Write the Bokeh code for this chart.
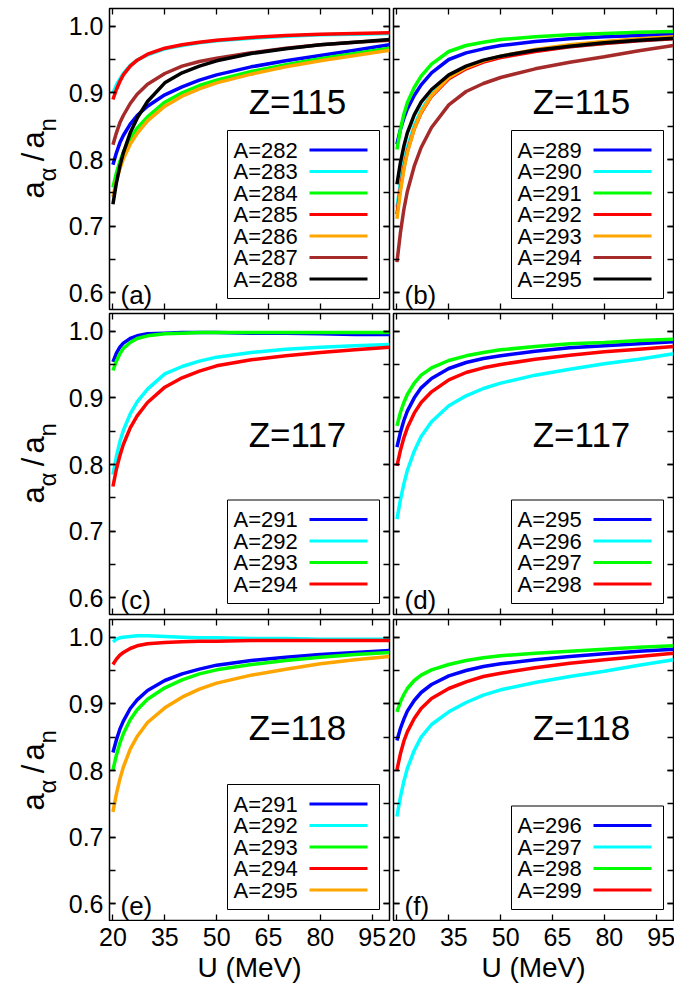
import math
from bokeh.plotting import figure
from bokeh.layouts import column, row
from bokeh.models import (Range1d, LinearAxis, FixedTicker, PrintfTickFormatter,
                          Label, BoxAnnotation, CustomLabelingPolicy)
from bokeh.core.properties import value
from bokeh.embed import file_html
from bokeh.resources import INLINE

# ---------------- data ----------------
U = [20, 21, 22, 23, 25, 27, 30, 35, 40, 45, 50, 60, 70, 80, 90, 100]
XTICKS = [20, 35, 50, 65, 80, 95]
YTICKS = [0.6, 0.7, 0.8, 0.9, 1.0]
YMINOR = [0.6, 0.65, 0.7, 0.75, 0.8, 0.85, 0.9, 0.95, 1.0]
X_RANGE = (19, 100)
Y_RANGE = (0.575, 1.0265)

# (a) Z=115
a_282 = [0.792, 0.810, 0.825, 0.836, 0.853, 0.866, 0.880, 0.897, 0.909, 0.919, 0.927, 0.939, 0.948, 0.956, 0.964, 0.972]
a_283 = [0.900, 0.912, 0.921, 0.929, 0.941, 0.949, 0.957, 0.966, 0.971, 0.975, 0.978, 0.982, 0.985, 0.987, 0.988, 0.989]
a_284 = [0.758, 0.780, 0.797, 0.811, 0.831, 0.847, 0.864, 0.886, 0.900, 0.911, 0.919, 0.932, 0.942, 0.951, 0.959, 0.967]
a_285 = [0.890, 0.905, 0.917, 0.927, 0.940, 0.949, 0.958, 0.967, 0.972, 0.976, 0.979, 0.983, 0.986, 0.988, 0.989, 0.990]
a_286 = [0.744, 0.768, 0.786, 0.801, 0.823, 0.839, 0.858, 0.880, 0.895, 0.906, 0.915, 0.928, 0.939, 0.948, 0.956, 0.964]
a_287 = [0.822, 0.840, 0.855, 0.866, 0.884, 0.898, 0.913, 0.929, 0.940, 0.947, 0.952, 0.960, 0.967, 0.972, 0.976, 0.979]
a_288 = [0.733, 0.765, 0.790, 0.810, 0.840, 0.862, 0.887, 0.915, 0.930, 0.940, 0.948, 0.959, 0.966, 0.972, 0.976, 0.980]

# (b) Z=115
b_289 = [0.823, 0.845, 0.862, 0.876, 0.896, 0.912, 0.930, 0.950, 0.960, 0.966, 0.971, 0.977, 0.981, 0.984, 0.986, 0.988]
b_290 = [0.728, 0.765, 0.795, 0.818, 0.851, 0.874, 0.898, 0.924, 0.938, 0.947, 0.954, 0.963, 0.969, 0.974, 0.978, 0.981]
b_291 = [0.815, 0.845, 0.868, 0.885, 0.908, 0.925, 0.943, 0.962, 0.971, 0.976, 0.980, 0.984, 0.987, 0.989, 0.991, 0.992]
b_292 = [0.718, 0.757, 0.788, 0.812, 0.846, 0.870, 0.895, 0.921, 0.936, 0.946, 0.953, 0.962, 0.969, 0.974, 0.978, 0.981]
b_293 = [0.711, 0.752, 0.785, 0.810, 0.846, 0.871, 0.896, 0.923, 0.938, 0.948, 0.955, 0.965, 0.972, 0.977, 0.981, 0.984]
b_294 = [0.646, 0.690, 0.725, 0.752, 0.790, 0.818, 0.848, 0.882, 0.902, 0.914, 0.923, 0.936, 0.946, 0.954, 0.963, 0.971]
b_295 = [0.763, 0.795, 0.820, 0.840, 0.867, 0.886, 0.905, 0.927, 0.940, 0.949, 0.955, 0.964, 0.970, 0.975, 0.979, 0.982]

# (c) Z=117
c_291 = [0.954, 0.967, 0.976, 0.982, 0.989, 0.993, 0.996, 0.997, 0.998, 0.998, 0.998, 0.997, 0.997, 0.996, 0.995, 0.995]
c_292 = [0.785, 0.812, 0.834, 0.851, 0.876, 0.894, 0.913, 0.936, 0.947, 0.955, 0.961, 0.968, 0.973, 0.976, 0.978, 0.980]
c_293 = [0.941, 0.955, 0.966, 0.974, 0.983, 0.989, 0.993, 0.996, 0.997, 0.998, 0.998, 0.998, 0.998, 0.998, 0.998, 0.998]
c_294 = [0.767, 0.793, 0.813, 0.830, 0.855, 0.873, 0.893, 0.916, 0.930, 0.940, 0.948, 0.957, 0.963, 0.968, 0.972, 0.976]

# (d) Z=117
d_295 = [0.826, 0.848, 0.866, 0.880, 0.900, 0.915, 0.929, 0.944, 0.953, 0.959, 0.963, 0.970, 0.975, 0.978, 0.981, 0.984]
d_296 = [0.718, 0.747, 0.771, 0.791, 0.820, 0.842, 0.864, 0.888, 0.903, 0.914, 0.922, 0.934, 0.943, 0.951, 0.958, 0.966]
d_297 = [0.858, 0.878, 0.893, 0.905, 0.922, 0.934, 0.945, 0.956, 0.963, 0.968, 0.972, 0.977, 0.981, 0.983, 0.986, 0.988]
d_298 = [0.798, 0.821, 0.840, 0.855, 0.877, 0.893, 0.909, 0.927, 0.938, 0.945, 0.950, 0.958, 0.964, 0.969, 0.973, 0.977]

# (e) Z=118
e_291 = [0.827, 0.846, 0.862, 0.874, 0.893, 0.906, 0.920, 0.935, 0.945, 0.952, 0.958, 0.965, 0.970, 0.974, 0.977, 0.980]
e_292 = [0.993, 0.997, 0.999, 1.000, 1.001, 1.002, 1.002, 1.001, 1.000, 0.999, 0.999, 0.998, 0.998, 0.997, 0.997, 0.997]
e_293 = [0.801, 0.823, 0.841, 0.855, 0.876, 0.891, 0.907, 0.924, 0.936, 0.945, 0.951, 0.959, 0.965, 0.970, 0.974, 0.977]
e_294 = [0.959, 0.967, 0.973, 0.977, 0.983, 0.987, 0.990, 0.992, 0.993, 0.994, 0.994, 0.995, 0.995, 0.995, 0.995, 0.995]
e_295 = [0.738, 0.765, 0.787, 0.805, 0.832, 0.851, 0.872, 0.894, 0.910, 0.922, 0.931, 0.943, 0.952, 0.960, 0.966, 0.971]

# (f) Z=118
f_296 = [0.845, 0.863, 0.877, 0.889, 0.905, 0.917, 0.929, 0.942, 0.950, 0.956, 0.960, 0.966, 0.971, 0.975, 0.979, 0.982]
f_297 = [0.731, 0.760, 0.784, 0.803, 0.830, 0.850, 0.869, 0.888, 0.902, 0.913, 0.921, 0.932, 0.941, 0.949, 0.958, 0.966]
f_298 = [0.888, 0.903, 0.914, 0.923, 0.935, 0.943, 0.951, 0.959, 0.965, 0.969, 0.972, 0.976, 0.979, 0.982, 0.985, 0.987]
f_299 = [0.801, 0.825, 0.844, 0.858, 0.878, 0.893, 0.908, 0.923, 0.933, 0.941, 0.946, 0.954, 0.961, 0.966, 0.971, 0.976]

COL = {"blue": "#0000ff", "cyan": "#00ffff", "green": "#00ff00", "red": "#ff0000",
       "orange": "#ffa500", "brown": "#a52a2a", "black": "#000000"}

PANELS = [
    ("(a)", "Z=115", 92.5, [(282, "blue", a_282), (283, "cyan", a_283), (284, "green", a_284),
                            (285, "red", a_285), (286, "orange", a_286), (287, "brown", a_287),
                            (288, "black", a_288)]),
    ("(b)", "Z=115", 92.5, [(289, "blue", b_289), (290, "cyan", b_290), (291, "green", b_291),
                            (292, "red", b_292), (293, "orange", b_293), (294, "brown", b_294),
                            (295, "black", b_295)]),
    ("(c)", "Z=117", 120.5, [(291, "blue", c_291), (292, "cyan", c_292), (293, "green", c_293),
                             (294, "red", c_294)]),
    ("(d)", "Z=117", 120.5, [(295, "blue", d_295), (296, "cyan", d_296), (297, "green", d_297),
                             (298, "red", d_298)]),
    ("(e)", "Z=118", 107.5, [(291, "blue", e_291), (292, "cyan", e_292), (293, "green", e_293),
                             (294, "red", e_294), (295, "orange", e_295)]),
    ("(f)", "Z=118", 107.5, [(296, "blue", f_296), (297, "cyan", f_297), (298, "green", f_298),
                             (299, "red", f_299)]),
]

# ---------------- layout constants ----------------
FONT = "Liberation Sans"
FW, FH = 280, 301
YT_W = 60                      # column holding the y titles
LEFT_B, MID_L, MID_R, RIGHT_B = 49, 2, 2, 1
ROW_TOP = [8, 2, 3]
ROW_BOT = [2, 2, 1]
STRIP_H = 64
TOTAL_W = YT_W + LEFT_B + FW + MID_L + MID_R + FW + RIGHT_B

NO_LABELS = CustomLabelingPolicy(code="for (const i of indices) indices.unset(i)")


def style_axis(ax, labels):
    ax.axis_line_color = None
    ax.major_tick_in = 6
    ax.major_tick_out = 0
    ax.minor_tick_in = 6
    ax.minor_tick_out = 0
    ax.major_tick_line_color = "black"
    ax.minor_tick_line_color = "black"
    ax.major_tick_line_width = 1.3
    ax.minor_tick_line_width = 1.3
    if labels:
        ax.major_label_text_font = FONT
        ax.major_label_text_font_size = "25px"
        ax.major_label_text_color = "black"
        ax.major_label_standoff = 6
    else:
        ax.major_label_text_font_size = "0px"
        ax.major_label_standoff = 0
        ax.major_label_policy = NO_LABELS


def add_label(p, x, y, text, size, align="left", baseline="alphabetic", angle=0.0):
    p.add_layout(Label(x=x, y=y, x_units="screen", y_units="screen", text=text,
                       text_font=FONT, text_font_size=f"{size}px", text_color="black",
                       text_align=align, text_baseline=baseline, angle=angle))


def box(p, l, r, b, t, fill, line):
    p.add_layout(BoxAnnotation(left=l, right=r, bottom=b, top=t,
                               left_units="screen", right_units="screen",
                               bottom_units="screen", top_units="screen",
                               fill_color=fill, fill_alpha=1.0,
                               line_color=line, line_alpha=1.0, line_width=1))


def make_panel(k, tag, zlab, z_top, series):
    col, rw = k % 2, k // 2
    bl = LEFT_B if col == 0 else MID_R
    br = MID_L if col == 0 else RIGHT_B
    p = figure(width=bl + FW + br, height=ROW_TOP[rw] + FH + ROW_BOT[rw],
               x_range=Range1d(*X_RANGE), y_range=Range1d(*Y_RANGE),
               x_axis_location=None, y_axis_location=None,
               toolbar_location=None, output_backend="svg",
               min_border_left=bl, min_border_right=br,
               min_border_top=ROW_TOP[rw], min_border_bottom=ROW_BOT[rw],
               background_fill_color="white", border_fill_color="white",
               outline_line_color="black", outline_line_width=1.5, outline_line_alpha=1.0)
    p.grid.visible = False

    for loc in ("below", "above"):
        ax = LinearAxis(ticker=FixedTicker(ticks=XTICKS))
        style_axis(ax, False)
        p.add_layout(ax, loc)
    for loc in ("left", "right"):
        ax = LinearAxis(ticker=FixedTicker(ticks=YTICKS, minor_ticks=YMINOR))
        lab = (loc == "left" and col == 0)
        style_axis(ax, lab)
        if lab:
            ax.formatter = PrintfTickFormatter(format="%.1f")
        p.add_layout(ax, loc)

    for A, cname, vals in series:
        p.line(U, vals, line_color=COL[cname], line_width=3.5)

    add_label(p, 188, FH - z_top, zlab, 35, align="center", baseline="middle")
    add_label(p, 11, 15, tag, 26)

    # legend: text first, sample line on the right
    n = len(series)
    bw, bh = 152, 39 + (n - 1) * 21.5
    right, bottom = FW - 10, 11
    left, top = right - bw, bottom + bh
    box(p, left, right, bottom, top, "white", "black")
    for i, (A, cname, vals) in enumerate(series):
        cy = top - 19.5 - i * 21.5
        add_label(p, left + 6, cy, f"A={A}", 22, baseline="middle")
        box(p, left + 82, left + 140, cy - 1.5, cy + 1.5, COL[cname], None)
    return p


def make_ytitle(rw):
    h = ROW_TOP[rw] + FH + ROW_BOT[rw]
    p = figure(width=YT_W, height=h, x_range=Range1d(0, YT_W), y_range=Range1d(0, h),
               x_axis_location=None, y_axis_location=None, toolbar_location=None,
               output_backend="svg", min_border=0, outline_line_color=None,
               background_fill_color="white", border_fill_color="white")
    p.grid.visible = False
    rot = math.pi / 2
    xm, xs = 33, 47
    c = ROW_BOT[rw] + FH / 2
    add_label(p, xm, c - 41.5, "a", 31, angle=rot)
    add_label(p, xs, c - 24.5, "\u03b1", 24, angle=rot)
    add_label(p, xm, c, "/", 31, align="center", angle=rot)
    add_label(p, xm, c + 8.5, "a", 31, angle=rot)
    add_label(p, xs, c + 25.5, "n", 24, angle=rot)
    return p


figs = [make_panel(k, *PANELS[k]) for k in range(6)]
ytitles = [make_ytitle(r) for r in range(3)]

# bottom strip: x tick labels and x titles through the panels' x scales
ppu = FW / (X_RANGE[1] - X_RANGE[0])
l0 = YT_W + LEFT_B
r0 = YT_W + LEFT_B + FW + MID_L + MID_R
left_rng = Range1d(X_RANGE[0] - l0 / ppu, X_RANGE[1] + (TOTAL_W - l0 - FW) / ppu)
right_rng = Range1d(X_RANGE[0] - r0 / ppu, X_RANGE[1] + (TOTAL_W - r0 - FW) / ppu)
strip = figure(width=TOTAL_W, height=STRIP_H, x_range=left_rng,
               y_range=Range1d(0, STRIP_H), extra_x_ranges={"right": right_rng},
               x_axis_location=None, y_axis_location=None, toolbar_location=None,
               output_backend="svg", min_border=0, outline_line_color=None,
               background_fill_color="white", border_fill_color="white")
strip.grid.visible = False
strip.title.visible = False
xlabels = [str(t) for t in XTICKS]
xmid = (X_RANGE[0] + X_RANGE[1]) / 2
for rng, xoff in (("default", 0), ("right", 5)):
    strip.text(x=XTICKS, y=[STRIP_H - 15] * len(XTICKS), text=xlabels,
               x_range_name=rng, x_offset=xoff,
               text_font=value(FONT), text_font_size=value("25px"),
               text_color="black", text_align="center", text_baseline="middle")
    strip.text(x=[xmid], y=[18], text=["U (MeV)"], x_range_name=rng,
               text_font=value(FONT), text_font_size=value("28px"),
               text_color="black", text_align="center", text_baseline="alphabetic")

layout = column(row(ytitles[0], figs[0], figs[1]),
                row(ytitles[1], figs[2], figs[3]),
                row(ytitles[2], figs[4], figs[5]),
                strip)

open("out.html", "w").write(file_html(layout, INLINE))
